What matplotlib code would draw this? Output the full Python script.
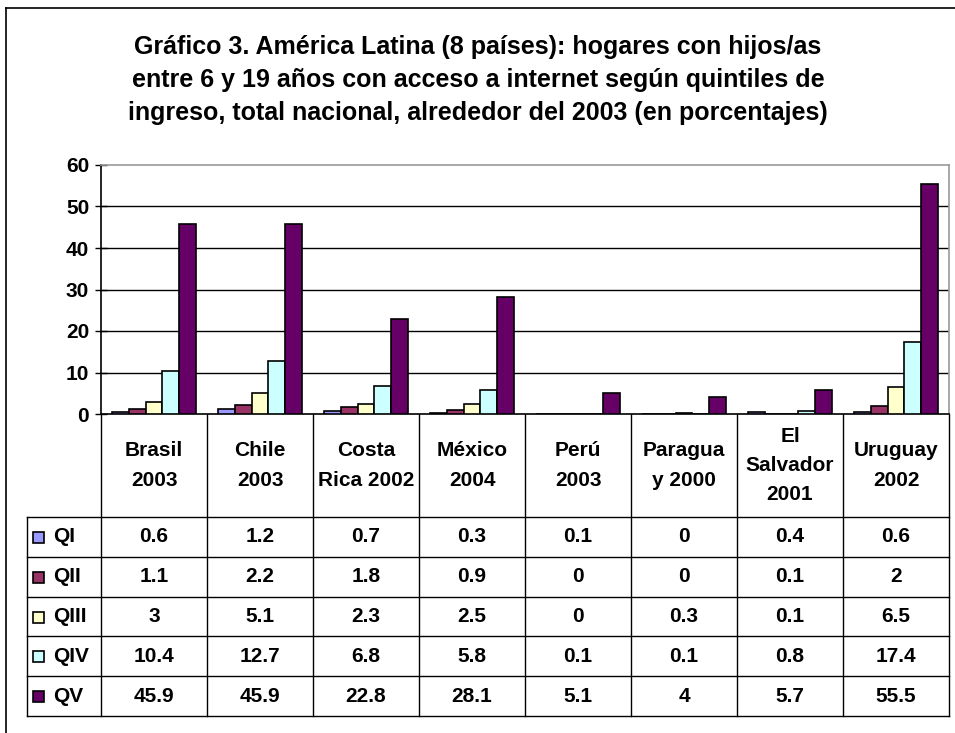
import matplotlib.pyplot as plt
import numpy as np
from matplotlib.patches import Rectangle
from matplotlib.lines import Line2D

plt.rcParams['font.family'] = ['Liberation Sans', 'DejaVu Sans']
plt.rcParams['font.weight'] = 'bold'

categories = ["Brasil\n2003", "Chile\n2003", "Costa\nRica 2002", "México\n2004",
              "Perú\n2003", "Paragua\ny 2000", "El\nSalvador\n2001", "Uruguay\n2002"]
series = ["QI", "QII", "QIII", "QIV", "QV"]
qi = [0.6, 1.2, 0.7, 0.3, 0.1, 0, 0.4, 0.6]
qii = [1.1, 2.2, 1.8, 0.9, 0, 0, 0.1, 2]
qiii = [3, 5.1, 2.3, 2.5, 0, 0.3, 0.1, 6.5]
qiv = [10.4, 12.7, 6.8, 5.8, 0.1, 0.1, 0.8, 17.4]
qv = [45.9, 45.9, 22.8, 28.1, 5.1, 4, 5.7, 55.5]
values = [qi, qii, qiii, qiv, qv]
colors = ["#9999FF", "#993366", "#FFFFCC", "#CCFFFF", "#660066"]
yticks = [0, 10, 20, 30, 40, 50, 60]

title = ("Gráfico 3. América Latina (8 países): hogares con hijos/as\n"
         "entre 6 y 19 años con acceso a internet según quintiles de\n"
         "ingreso, total nacional, alrededor del 2003 (en porcentajes)")

W, H = 955, 733
fig = plt.figure(figsize=(W / 100, H / 100), dpi=100)

# pixel layout
x0, x1 = 101, 949
y_top, y_zero = 165, 414
colw = (x1 - x0) / len(categories)
ax = fig.add_axes([x0 / W, 1 - y_zero / H, (x1 - x0) / W, (y_zero - y_top) / H])

n = len(categories)
x = np.arange(n)
bw = 0.157
for i, (s, vals) in enumerate(zip(series, values)):
    ax.bar(x + (i - 2) * bw, vals, bw, color=colors[i], edgecolor="black",
           linewidth=1.2, zorder=3, label=s)

ax.set_xlim(-0.5, n - 0.5)
ax.set_ylim(0, 60)
ax.set_yticks(yticks)
ax.set_yticklabels([str(t) for t in yticks], fontsize=15, fontweight="bold")
ax.set_xticks([])
ax.tick_params(axis="y", direction="inout", length=9, width=1, pad=4)
for t in yticks[1:-1]:
    ax.axhline(t, color="black", linewidth=1, zorder=1)
ax.spines["left"].set_color("black")
ax.spines["bottom"].set_color("black")
ax.spines["top"].set_color("#999999")
ax.spines["right"].set_color("#999999")
for sp in ax.spines.values():
    sp.set_linewidth(1.2)

# overlay in pixel coordinates for table, title and frame
ov = fig.add_axes([0, 0, 1, 1], zorder=-1)
ov.set_xlim(0, W)
ov.set_ylim(H, 0)
ov.axis("off")

ov.add_line(Line2D([6, 6], [8, H], color="black", lw=1.2))
ov.add_line(Line2D([6, W], [8, 8], color="black", lw=1.2))

ov.text(478, 80, title, ha="center", va="center", fontsize=18, fontweight="bold",
        linespacing=1.45)

head_bot = 517
row_h = (716 - head_bot) / len(series)
leg_x = 27

# header column lines
for j in range(n + 1):
    xx = x0 + j * colw
    ov.add_line(Line2D([xx, xx], [y_zero, 716], color="black", lw=1))
for j, c in enumerate(categories):
    ov.text(x0 + (j + 0.5) * colw, (y_zero + head_bot) / 2, c, ha="center", va="center",
            fontsize=15, fontweight="bold", linespacing=1.68)

# table rows
for r in range(len(series) + 1):
    yy = head_bot + r * row_h
    ov.add_line(Line2D([leg_x, x1], [yy, yy], color="black", lw=1))
ov.add_line(Line2D([leg_x, leg_x], [head_bot, 716], color="black", lw=1))

for r, (s, vals) in enumerate(zip(series, values)):
    yc = head_bot + (r + 0.5) * row_h
    ov.add_patch(Rectangle((33, yc - 5), 11, 11, facecolor=colors[r], edgecolor="black", lw=1.2))
    ov.text(53, yc, s, ha="left", va="center", fontsize=15, fontweight="bold")
    for j, v in enumerate(vals):
        ov.text(x0 + (j + 0.5) * colw, yc, f"{v:g}", ha="center", va="center",
                fontsize=15, fontweight="bold")

fig.savefig("out.png", dpi=100)
